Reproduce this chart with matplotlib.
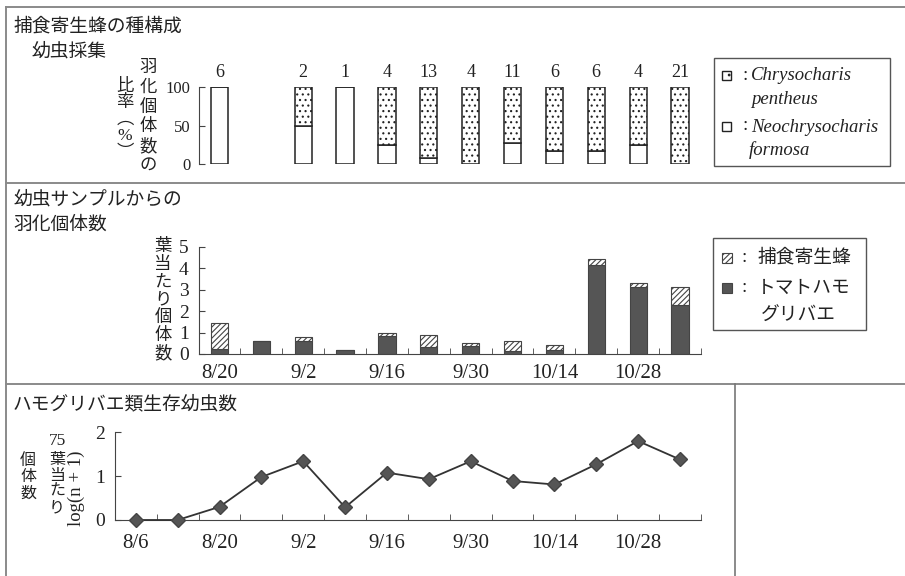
import matplotlib
matplotlib.use("Agg")
import matplotlib.pyplot as plt
import numpy as np
from matplotlib.patches import Rectangle

plt.rcParams['font.family'] = ['Liberation Serif', 'Noto Sans CJK JP']
plt.rcParams['hatch.linewidth'] = 0.8

# --- data (week index 0 = 8/6, one sample per week) ---
bar_weeks = [2, 3, 4, 5, 6, 7, 8, 9, 10, 11, 12, 13]
n_emerged = [6, None, 2, 1, 4, 13, 4, 11, 6, 6, 4, 21]
neo_pct = [100, None, 50, 100, 25, 7.7, 0, 27.3, 16.7, 16.7, 25, 0]      # Neochrysocharis formosa
fly_per_leaf = [0.23, 0.60, 0.62, 0.20, 0.82, 0.34, 0.35, 0.16, 0.20, 4.16, 3.11, 2.30]
wasp_per_leaf = [1.20, 0.00, 0.17, 0.00, 0.14, 0.53, 0.17, 0.44, 0.23, 0.25, 0.19, 0.84]

line_weeks = [0, 1, 2, 3, 4, 5, 6, 7, 8, 9, 10, 11, 12, 13]
log_larvae = [0, 0, 0.30, 0.98, 1.34, 0.29, 1.08, 0.93, 1.34, 0.89, 0.81, 1.27, 1.80, 1.38]

label_weeks = [0, 2, 4, 6, 8, 10, 12]
date_labels = ["8/6", "8/20", "9/2", "9/16", "9/30", "10/14", "10/28"]

W, H = 905, 576
fig = plt.figure(figsize=(W / 100, H / 100), dpi=100)

X0, DX = 135.78, 41.86   # pixel position of week 0 and spacing per week


def wx(w):
    return X0 + DX * w


def add_px_axes(x0, y0, x1, y1):
    return fig.add_axes([x0 / W, 1 - y1 / H, (x1 - x0) / W, (y1 - y0) / H])


def vtext(x, y0, step, chars, size):
    for k, c in enumerate(chars):
        bg.text(x, y0 + k * step, c, ha="center", va="center", fontsize=size, color="#222")


# background axes in pixel units for frame, titles and legends
bg = fig.add_axes([0, 0, 1, 1])
bg.set_xlim(0, W)
bg.set_ylim(H, 0)
bg.axis("off")
fc = "#8a8a8a"
bg.plot([6, W], [7, 7], color=fc, lw=1.4)
bg.plot([6, 6], [7, H], color=fc, lw=1.4)
bg.plot([6, W], [183, 183], color=fc, lw=1.4)
bg.plot([6, W], [384, 384], color=fc, lw=1.4)
bg.plot([735, 735], [384, H], color="#777", lw=1.2)

# titles
bg.text(13, 27, "捕食寄生蜂の種構成", fontsize=13.5, va="center", color="#222")
bg.text(31, 52, "幼虫採集", fontsize=13.5, va="center", color="#222")
bg.text(13, 200, "幼虫サンプルからの", fontsize=13.5, va="center", color="#222")
bg.text(13, 225, "羽化個体数", fontsize=13.5, va="center", color="#222")
bg.text(13, 405, "ハモグリバエ類生存幼虫数", fontsize=13.5, va="center", color="#222")

# vertical axis labels
vtext(148, 68, 19.8, "羽化個体数の", 12.5)
vtext(125, 87, 16.5, "比率︵%︶", 12.5)
vtext(163, 247, 17.8, "葉当たり個体数", 12.5)
vtext(28, 461, 16.5, "個体数", 11.5)
bg.text(57, 441, "75", ha="center", va="center", fontsize=12.5, color="#222")
vtext(57, 460, 16, "葉当たり", 11.5)
bg.text(76, 488, "log(n + 1)", ha="center", va="center", rotation=90, fontsize=13.5, color="#222")

axc = "#444"

# --- panel 1: species composition ---
ax1 = add_px_axes(wx(1.5), 87.3, wx(13.5), 164)
wk = np.array(bar_weeks, dtype=float)
neo = np.array([np.nan if v is None else v for v in neo_pct], dtype=float)
ok = ~np.isnan(neo)
ax1.bar(wk[ok], neo[ok], width=0.41, color="white", edgecolor="#222", lw=1.1)
ax1.bar(wk[ok], 100 - neo[ok], bottom=neo[ok], width=0.41, color="white",
        edgecolor="#222", lw=1.1, hatch="...")
for w, n in zip(bar_weeks, n_emerged):
    if n is not None:
        ax1.text(w, 119, str(n), ha="center", va="center", fontsize=13, color="#222", clip_on=False)
ax1.set_xlim(1.5, 13.5)
ax1.set_ylim(0, 100)
ax1.set_yticks([0, 50, 100])
ax1.set_xticks([])
for s in ["top", "right", "bottom"]:
    ax1.spines[s].set_visible(False)
ax1.spines["left"].set_color(axc)
ax1.tick_params(axis="y", direction="in", length=4, color=axc, labelsize=12, pad=6, labelcolor="#222")
ax1.patch.set_alpha(0)

# legend 1
bg.add_patch(Rectangle((714, 58), 176, 108, fill=False, edgecolor="#555", lw=1))
bg.add_patch(Rectangle((722, 71), 9, 9, facecolor="white", edgecolor="#222", lw=1, hatch=".."))
bg.add_patch(Rectangle((722, 122), 9, 9, facecolor="white", edgecolor="#222", lw=1))
bg.text(742, 75, ":", fontsize=13.5, va="center", color="#222")
bg.text(742, 126, ":", fontsize=13.5, va="center", color="#222")
bg.text(751, 75, "Chrysocharis", fontsize=13.5, style="italic", va="center", color="#222")
bg.text(751, 99, "pentheus", fontsize=13.5, style="italic", va="center", color="#222")
bg.text(751, 127, "Neochrysocharis", fontsize=13.5, style="italic", va="center", color="#222")
bg.text(749, 150, "formosa", fontsize=13.5, style="italic", va="center", color="#222")

# --- panel 2: emerged per leaf ---
ax2 = add_px_axes(wx(1.5), 246.7, wx(13.5), 354)
ax2.bar(bar_weeks, fly_per_leaf, width=0.41, color="#555", edgecolor="#444", lw=0.8)
ax2.bar(bar_weeks, wasp_per_leaf, bottom=fly_per_leaf, width=0.41, color="white",
        edgecolor="#444", lw=0.8, hatch="//////")
ax2.set_xlim(1.5, 13.5)
ax2.set_ylim(0, 5)
ax2.set_yticks([0, 1, 2, 3, 4, 5])

# --- panel 3: surviving larvae ---
ax3 = add_px_axes(wx(-0.5), 432.3, wx(13.5), 520)
ax3.plot(line_weeks, log_larvae, color="#333", lw=1.3, marker="D", ms=7,
         mfc="#555", mec="#444", clip_on=False, zorder=3)
ax3.set_xlim(-0.5, 13.5)
ax3.set_ylim(0, 2)
ax3.set_yticks([0, 1, 2])

for ax, start, pad in [(ax2, 2.5, 7), (ax3, 0.5, 10)]:
    for s in ["top", "right"]:
        ax.spines[s].set_visible(False)
    for s in ["left", "bottom"]:
        ax.spines[s].set_color(axc)
    ax.patch.set_alpha(0)
    ax.set_xticks(label_weeks[1:] if ax is ax2 else label_weeks)
    ax.set_xticklabels(date_labels[1:] if ax is ax2 else date_labels)
    ax.set_xticks(np.arange(start, 13.6, 1), minor=True)
    ax.tick_params(axis="x", which="major", length=0, labelsize=15, pad=pad, labelcolor="#222")
    ax.tick_params(axis="x", which="minor", direction="in", length=4, color=axc)
    ax.tick_params(axis="y", direction="in", length=4, color=axc, labelsize=14, pad=7, labelcolor="#222")

# legend 2
bg.add_patch(Rectangle((713, 238), 153, 92, fill=False, edgecolor="#555", lw=1))
bg.add_patch(Rectangle((722, 253), 10, 10, facecolor="white", edgecolor="#444", lw=0.8, hatch="//////"))
bg.add_patch(Rectangle((722, 283), 10, 10, facecolor="#555", edgecolor="#444", lw=0.8))
bg.text(741, 258, ":", fontsize=13.5, va="center", color="#222")
bg.text(741, 288, ":", fontsize=13.5, va="center", color="#222")
bg.text(757, 258, "捕食寄生蜂", fontsize=13.5, va="center", color="#222")
bg.text(757, 288, "トマトハモ", fontsize=13.5, va="center", color="#222")
bg.text(761, 316, "グリバエ", fontsize=13.5, va="center", color="#222")

fig.savefig("out.png", dpi=100)
